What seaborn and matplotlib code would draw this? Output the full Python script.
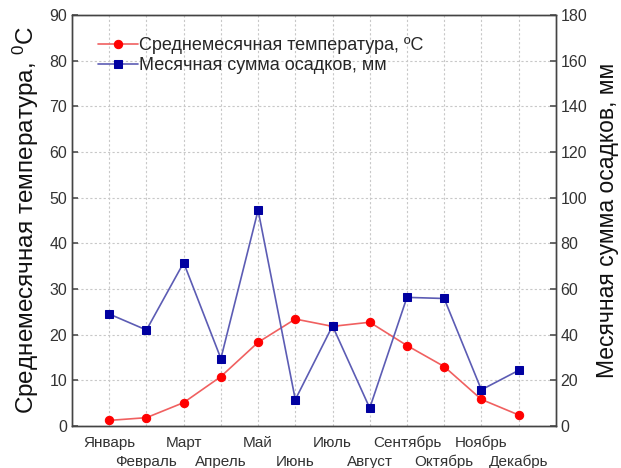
import matplotlib
matplotlib.use("Agg")
import matplotlib.pyplot as plt
import seaborn as sns
import pandas as pd

months = ["Январь", "Февраль", "Март", "Апрель", "Май", "Июнь",
          "Июль", "Август", "Сентябрь", "Октябрь", "Ноябрь", "Декабрь"]
temperature = [1.2, 1.8, 5.1, 10.8, 18.3, 23.4, 21.8, 22.7, 17.6, 13.0, 5.8, 2.4]
precipitation = [49, 42, 71.5, 29.5, 94.5, 11.5, 43.8, 7.8, 56.3, 55.8, 15.8, 24.3]

sns.set_theme(style="white")
plt.rcParams['font.family'] = ['Liberation Sans', 'DejaVu Sans']

df = pd.DataFrame({"m": range(1, 13), "t": temperature, "p": precipitation})

fig = plt.figure(figsize=(6.21, 4.68), dpi=100)
ax = fig.add_axes([0.116, 0.09, 0.779, 0.878])
ax2 = ax.twinx()

sns.lineplot(data=df, x="m", y="t", ax=ax, color="#f06060", lw=1.2,
             marker="o", markersize=6, markerfacecolor="#ff0000",
             markeredgecolor="#ff0000", label="Среднемесячная температура, ºC",
             legend=False)
sns.lineplot(data=df, x="m", y="p", ax=ax2, color="#5c5cb4", lw=1.2,
             marker="s", markersize=6, markerfacecolor="#0000a0",
             markeredgecolor="#0000a0", label="Месячная сумма осадков, мм",
             legend=False)

ax.set_xlim(0, 13)
ax.set_ylim(0, 90)
ax2.set_ylim(0, 180)
ax.set_yticks(range(0, 91, 10))
ax2.set_yticks(range(0, 181, 20))
ax.set_xticks(range(1, 13))
ax.set_xticklabels(months)

ax.grid(True, color="#c8c8c8", linestyle=(0, (2, 2)), lw=0.8)
ax.set_axisbelow(True)

for a in (ax, ax2):
    a.tick_params(direction="in", length=4, color="#555555", labelcolor="#333333",
                  labelsize=11.5)
    for s in a.spines.values():
        s.set_color("#444444")
        s.set_linewidth(1.0)
ax.tick_params(axis="x", labelsize=11)
for i, t in enumerate(ax.xaxis.get_major_ticks()):
    t.set_pad(7 if i % 2 == 0 else 21)

ax.set_xlabel("")
ax.set_ylabel(r"Среднемесячная температура, $\mathregular{^0}$C", fontsize=17.5,
              color="#111111", labelpad=6)
ax2.set_ylabel("Месячная сумма осадков, мм", fontsize=16.5, color="#111111", labelpad=6)

h1, l1 = ax.get_legend_handles_labels()
h2, l2 = ax2.get_legend_handles_labels()
ax.legend(h1 + h2, l1 + l2, loc="upper left", bbox_to_anchor=(0.02, 0.985),
          frameon=False, fontsize=13, handlelength=2.2, handletextpad=0.05,
          labelspacing=0.15)

fig.savefig("out.png", dpi=100)
